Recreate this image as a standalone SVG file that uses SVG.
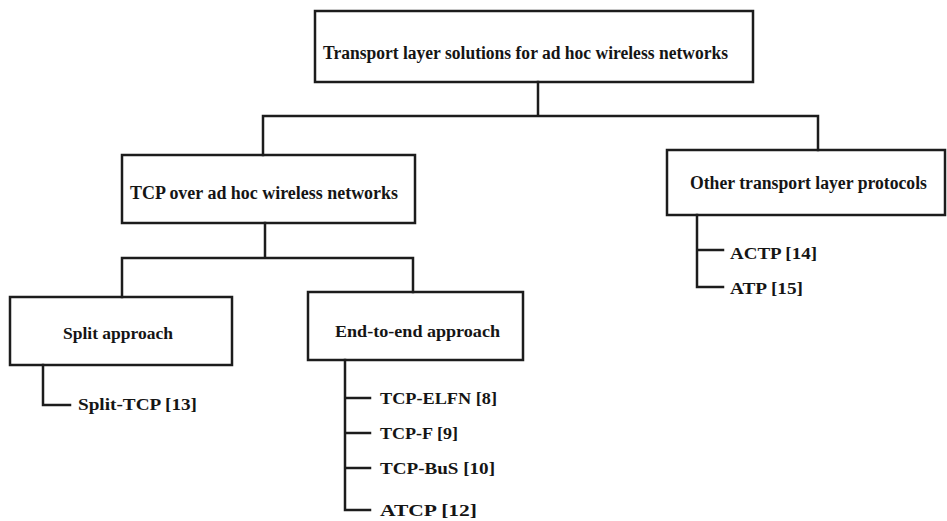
<svg xmlns="http://www.w3.org/2000/svg" width="947" height="521" viewBox="0 0 947 521">
<style>
.box{fill:none;stroke:#1c1c1c;stroke-width:2.5}
.ln{fill:none;stroke:#1c1c1c;stroke-width:2.5;stroke-linecap:square}
.t{font-family:"Liberation Serif","Times New Roman",serif;font-weight:bold;fill:#151515}
.h{font-size:18px}
.m{font-size:17px}
.i{font-size:17px}
</style>
<rect width="947" height="521" fill="#ffffff"/>
<g id="connectors">
<path class="ln" d="M538,82 V116 M263,116 H818 M263,116 V155 M818,116 V150"/>
<path class="ln" d="M265,223 V258 M122,258 H413 M122,258 V297 M413,258 V292"/>
<path class="ln" d="M43,365 V405 H70"/>
<path class="ln" d="M345,360 V510 H370 M345,398 H370 M345,433 H370 M345,468 H370"/>
<path class="ln" d="M697,215 V287 H723 M697,250 H723"/>
</g>
<g id="root">
<rect class="box" x="315" y="11" width="438" height="71"/>
<text class="t h" x="323" y="59" textLength="405" lengthAdjust="spacingAndGlyphs">Transport layer solutions for ad hoc wireless networks</text>
</g>
<g id="tcp">
<rect class="box" x="122" y="155" width="293" height="68"/>
<text class="t h" x="130" y="199" textLength="268" lengthAdjust="spacingAndGlyphs">TCP over ad hoc wireless networks</text>
</g>
<g id="other">
<rect class="box" x="667" y="150" width="278" height="65"/>
<text class="t h" x="690" y="189" textLength="237" lengthAdjust="spacingAndGlyphs">Other transport layer protocols</text>
</g>
<g id="split">
<rect class="box" x="10" y="297" width="222" height="68"/>
<text class="t m" x="63" y="339" textLength="110" lengthAdjust="spacingAndGlyphs">Split approach</text>
</g>
<g id="e2e">
<rect class="box" x="308" y="292" width="215" height="68"/>
<text class="t m" x="335" y="337" textLength="165" lengthAdjust="spacingAndGlyphs">End-to-end approach</text>
</g>
<g id="split-tcp"><text class="t i" x="78" y="410" textLength="119" lengthAdjust="spacingAndGlyphs">Split-TCP [13]</text></g>
<g id="tcp-elfn"><text class="t i" x="380" y="404" textLength="117" lengthAdjust="spacingAndGlyphs">TCP-ELFN [8]</text></g>
<g id="tcp-f"><text class="t i" x="380" y="439" textLength="78" lengthAdjust="spacingAndGlyphs">TCP-F [9]</text></g>
<g id="tcp-bus"><text class="t i" x="380" y="474" textLength="115" lengthAdjust="spacingAndGlyphs">TCP-BuS [10]</text></g>
<g id="atcp"><text class="t i" x="380" y="516" textLength="97" lengthAdjust="spacingAndGlyphs">ATCP [12]</text></g>
<g id="actp"><text class="t i" x="730" y="259" textLength="87" lengthAdjust="spacingAndGlyphs">ACTP [14]</text></g>
<g id="atp"><text class="t i" x="730" y="294" textLength="73" lengthAdjust="spacingAndGlyphs">ATP [15]</text></g>
</svg>
